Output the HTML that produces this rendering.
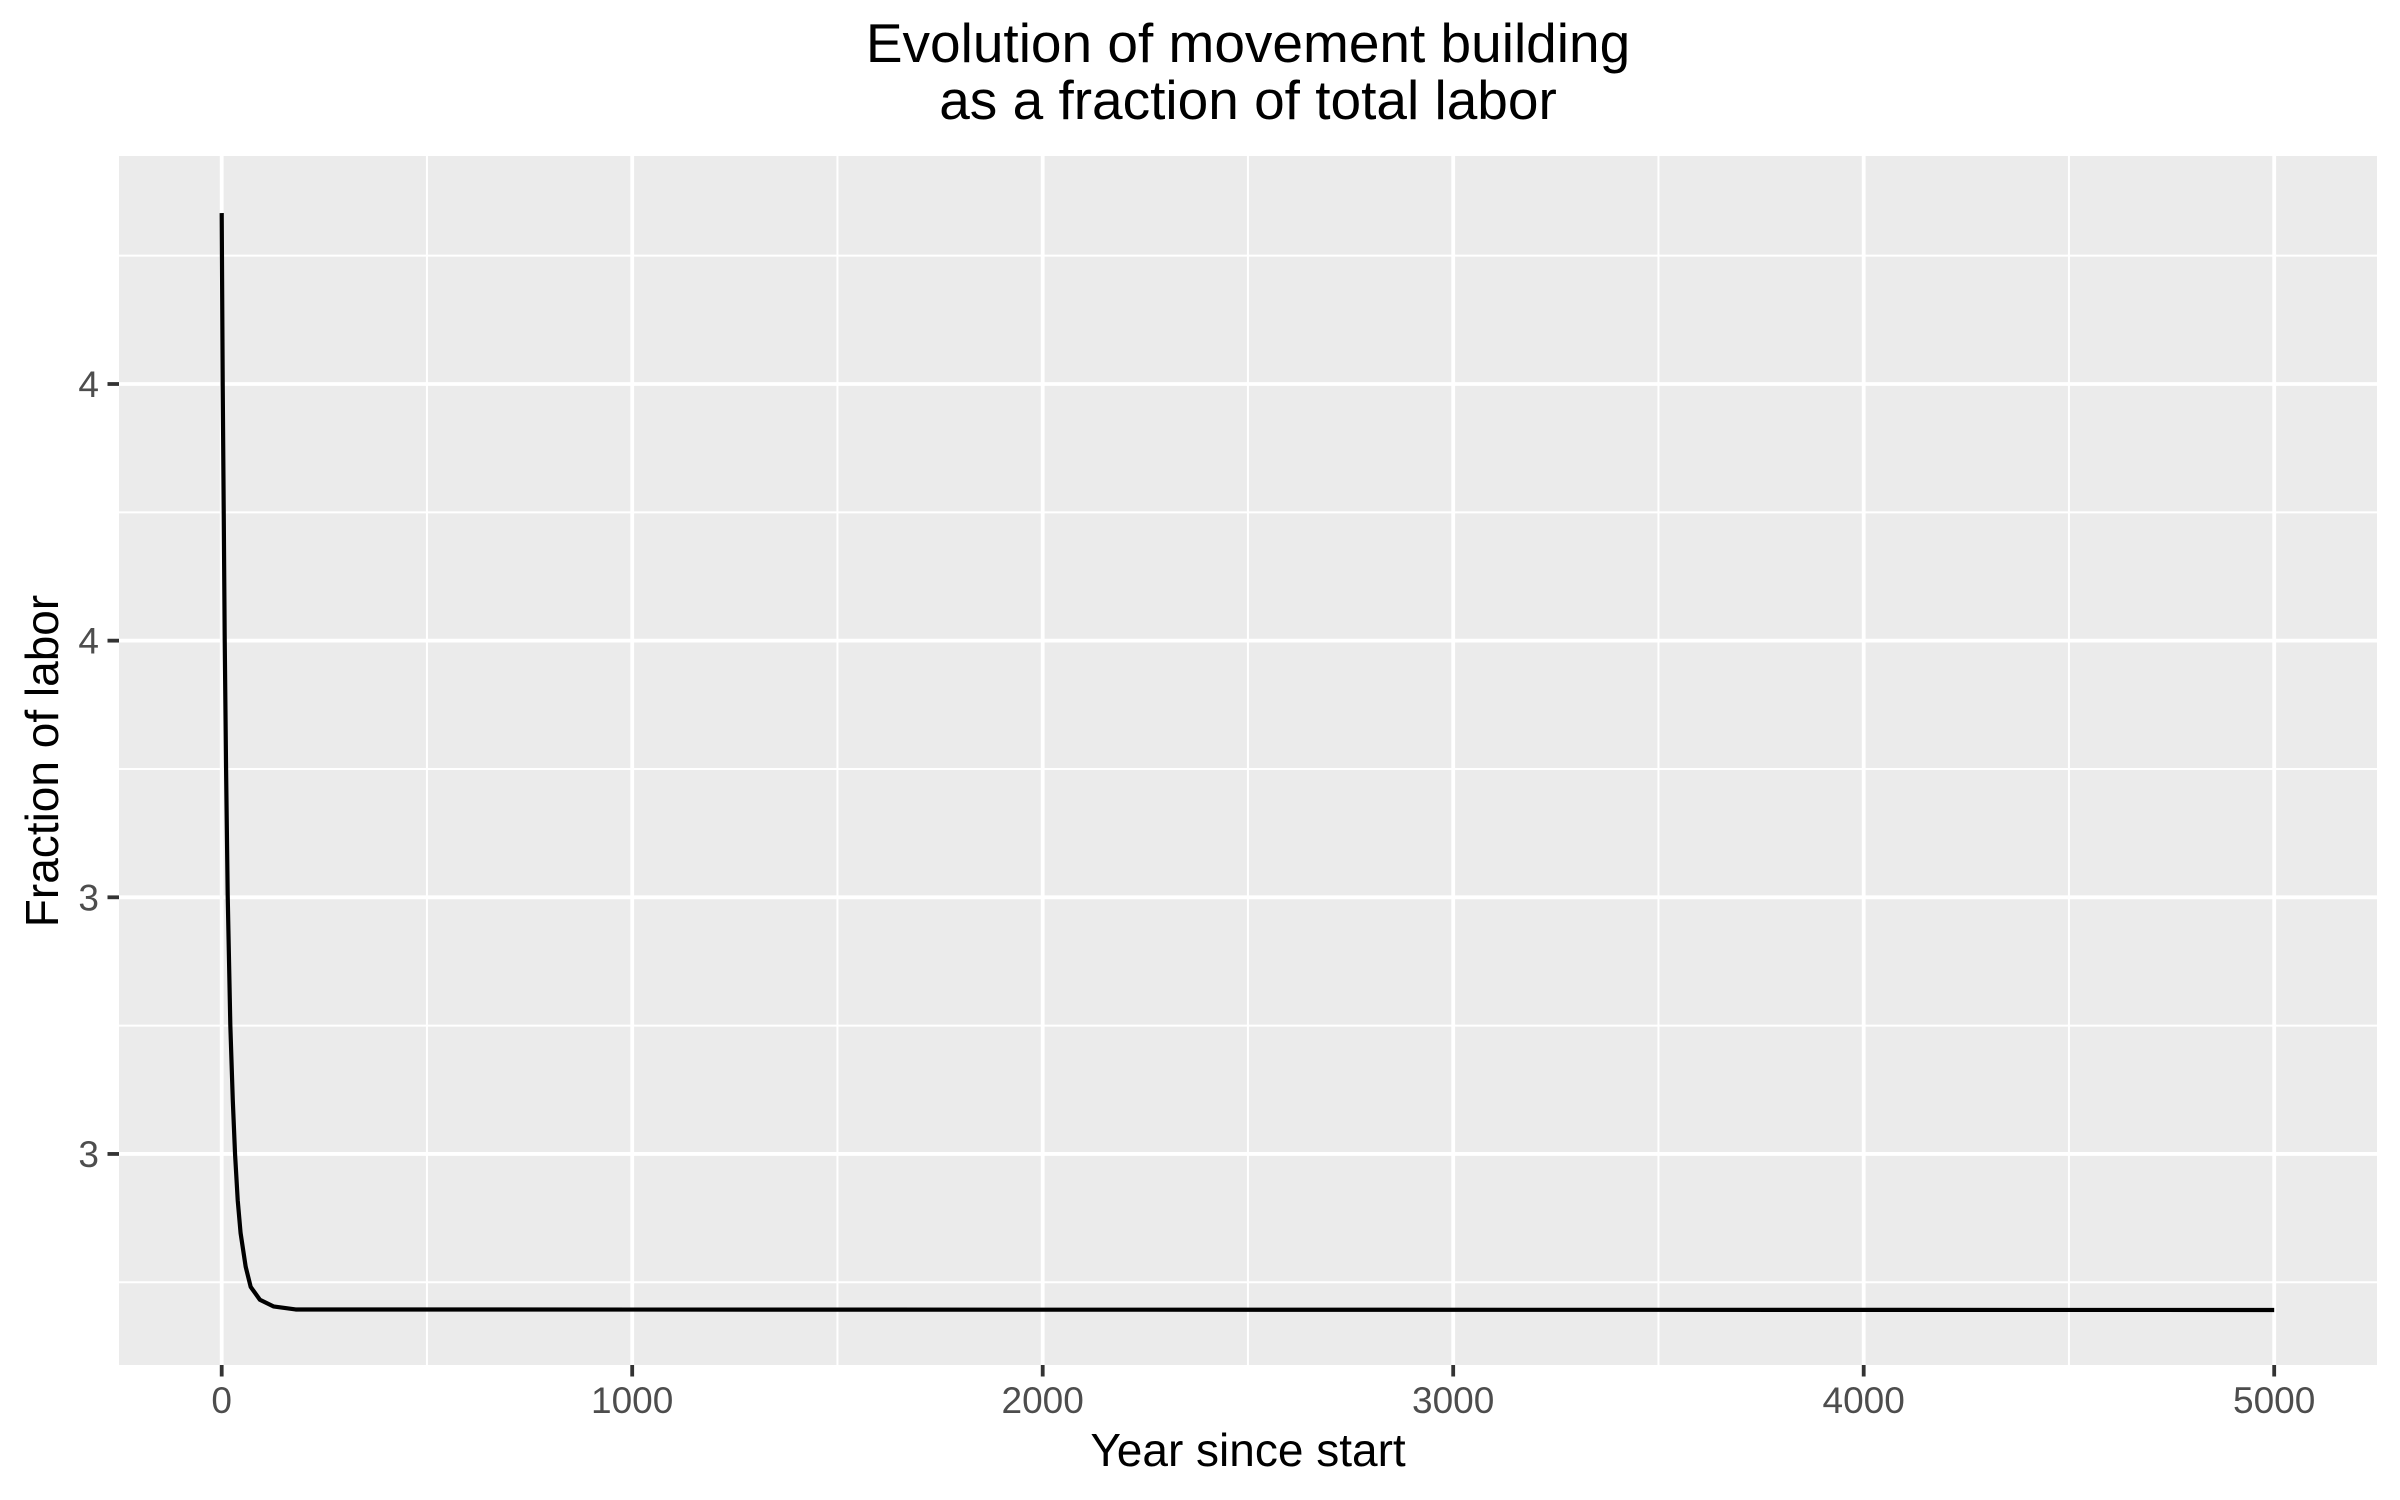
<!DOCTYPE html>
<html><head><meta charset="utf-8"><style>
html,body{margin:0;padding:0;background:#fff;}
svg{display:block;font-family:"Liberation Sans",Arial,sans-serif;}
</style></head><body>
<svg id="chart" width="2400" height="1500" viewBox="0 0 2400 1500" xmlns="http://www.w3.org/2000/svg">
<rect width="2400" height="1500" fill="#fff"/>
<text x="1248" y="62" font-size="55" text-anchor="middle" fill="#000">Evolution of movement building</text>
<text x="1248" y="119" font-size="55" text-anchor="middle" fill="#000">as a fraction of total labor</text>
<rect x="119" y="156" width="2258" height="1209" fill="#ebebeb"/>
<g id="grid"></g>
<g id="series"></g>
<g id="axes"></g>
<text x="1248" y="1466" font-size="46" text-anchor="middle" fill="#000">Year since start</text>
<text transform="translate(58,761) rotate(-90)" font-size="46" text-anchor="middle" fill="#000">Fraction of labor</text>
</svg>
<script>
const years = [0,2.4,4.9,7.3,10.6,14.6,21,27,32.5,39,46,58.5,70.6,93,126,180,5000];
const values = [4.833,4.504,4.255,4.005,3.754,3.505,3.251,3.105,3.0,2.91,2.846,2.78,2.741,2.716,2.703,2.697,2.696];
const xTicks = [0,1000,2000,3000,4000,5000];
const xTickLabels = ["0","1000","2000","3000","4000","5000"];
const xMinor = [500,1500,2500,3500,4500];
const yTicks = [4.5,4.0,3.5,3.0];
const yTickLabels = ["4","4","3","3"];
const yMinor = [4.75,4.25,3.75,3.25,2.75];

const NS = "http://www.w3.org/2000/svg";
const PL = 119, PR = 2377, PT = 156, PB = 1365;
function xs(v){ return 221.7 + v * 0.4105; }
function ys(v){ return 384 + (4.5 - v) * 513.3; }
function mk(tag, attrs, parent){
  const e = document.createElementNS(NS, tag);
  for (const k in attrs) e.setAttribute(k, attrs[k]);
  parent.appendChild(e);
  return e;
}
const grid = document.getElementById('grid');
const axes = document.getElementById('axes');
const series = document.getElementById('series');

yMinor.forEach(v => {
  const l = mk('line', {x1:PL, x2:PR, y1:ys(v), y2:ys(v), stroke:'#fff', 'stroke-width':2}, grid);
  
  
});
xMinor.forEach(v => {
  const l = mk('line', {x1:xs(v), x2:xs(v), y1:PT, y2:PB, stroke:'#fff', 'stroke-width':2}, grid);
  
  
});
yTicks.forEach((v, i) => {
  const l = mk('line', {x1:PL, x2:PR, y1:ys(v), y2:ys(v), stroke:'#fff', 'stroke-width':3.8}, grid);
  
  
  const t = mk('line', {x1:PL-11.5, x2:PL, y1:ys(v), y2:ys(v), stroke:'#333', 'stroke-width':3.8}, axes);
  
  
  const tx = mk('text', {x:PL-20, y:ys(v)+13, 'font-size':37, 'text-anchor':'end', fill:'#4d4d4d'}, axes);
  tx.textContent = yTickLabels[i];
  
  
});
xTicks.forEach((v, i) => {
  const l = mk('line', {x1:xs(v), x2:xs(v), y1:PT, y2:PB, stroke:'#fff', 'stroke-width':3.8}, grid);
  
  
  const t = mk('line', {x1:xs(v), x2:xs(v), y1:PB, y2:PB+11.5, stroke:'#333', 'stroke-width':3.8}, axes);
  
  
  const tx = mk('text', {x:xs(v), y:PB+48, 'font-size':37, 'text-anchor':'middle', fill:'#4d4d4d'}, axes);
  tx.textContent = xTickLabels[i];
  
  
});
const d = years.map((y, i) => (i ? 'L' : 'M') + xs(y).toFixed(2) + ',' + ys(values[i]).toFixed(2)).join(' ');
const path = mk('path', {d:d, fill:'none', stroke:'#000', 'stroke-width':4.2, 'stroke-linejoin':'round'}, series);


</script>
</body></html>
